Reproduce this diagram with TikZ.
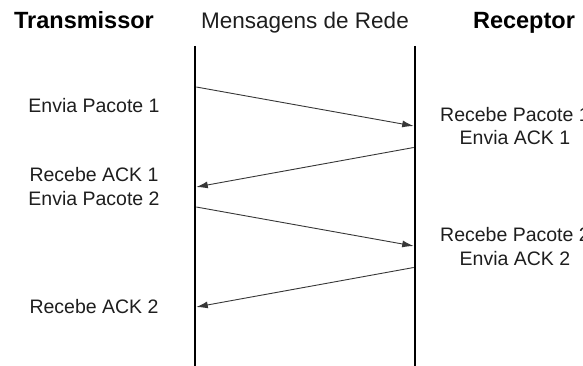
\documentclass[tikz,border=0pt]{standalone}
\usepackage{fontspec}
\setmainfont{Liberation Sans}
\usepackage{tikz}
\usetikzlibrary{arrows.meta,positioning}
\definecolor{msgGray}{RGB}{55,55,55}
\definecolor{txtGray}{RGB}{30,30,30}

\begin{document}
\begin{tikzpicture}[x=1pt,y=-1pt,
  lifeline/.style={black, line width=2.6pt},
  msg/.style={msgGray, line width=0.9pt, -{Latex[length=11.5pt,width=7pt]}},
  head/.style={inner sep=0pt, anchor=base, font=\fontsize{23.5}{28}\selectfont\bfseries},
  evt/.style={inner sep=0pt, anchor=base, align=center, text=txtGray,
    font=\fontsize{19.5}{23.3}\selectfont}]
\useasboundingbox (0,0) rectangle (583,366);

% cabecalhos
\node[head] (tx) at (84,29) {Transmissor};
\node[head, font=\fontsize{22.5}{27}\selectfont, text=txtGray] (net) at (305,29) {Mensagens de Rede};
\node[head] (rx) at (524,29) {Receptor};

% linhas de tempo
\coordinate (txTop) at (195,46);
\coordinate (txBot) at (195,366);
\coordinate (rxTop) at (415,46);
\coordinate (rxBot) at (415,366);
\draw[lifeline] (txTop) -- (txBot);
\draw[lifeline] (rxTop) -- (rxBot);

% mensagens
\coordinate (s1) at (196.3,87);
\coordinate (r1) at (413.7,126);
\coordinate (r2) at (413.7,147.5);
\coordinate (s2) at (196.3,187);
\coordinate (s3) at (196.3,207);
\coordinate (r3) at (413.7,246);
\coordinate (r4) at (413.7,267.5);
\coordinate (s4) at (196.3,307);
\draw[msg] (s1) -- (r1);
\draw[msg] (r2) -- (s2);
\draw[msg] (s3) -- (r3);
\draw[msg] (r4) -- (s4);

% eventos (base = ultima linha)
\node[evt] (ev1) at (94,113) {Envia Pacote 1};
\node[evt] (ev2) at (94,205) {Recebe ACK 1\\Envia Pacote 2};
\node[evt] (ev3) at (94,313.3) {Recebe ACK 2};
\node[evt] (ev4) at (515,145) {Recebe Pacote 1\\Envia ACK 1};
\node[evt] (ev5) at (515,265) {Recebe Pacote 2\\Envia ACK 2};
\end{tikzpicture}
\end{document}
